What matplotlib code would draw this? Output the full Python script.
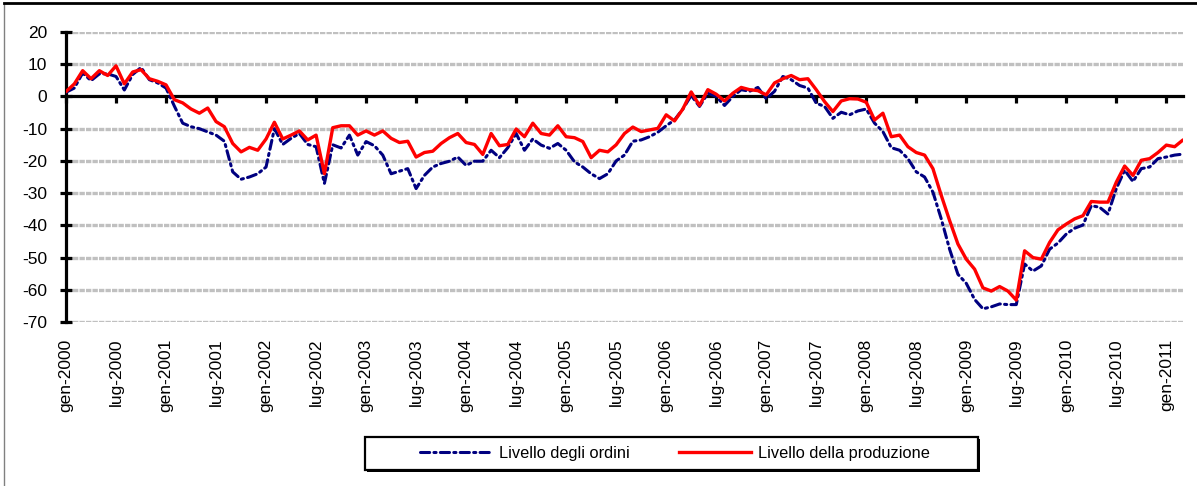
import matplotlib
matplotlib.use('Agg')
import matplotlib.pyplot as plt
from matplotlib.lines import Line2D
from matplotlib.patches import Rectangle

ordini = [1.3, 2.6, 7.3, 4.9, 7.0, 7.0, 6.2, 2.0, 6.8, 9.0, 5.2, 4.2,
          2.6, -3.0, -8.3, -9.4, -10.0, -11.0, -12.0, -13.9, -23.4, -25.7, -25.0, -24.0,
          -21.9, -10.0, -14.9, -13.0, -11.5, -14.9, -15.6, -27.0, -15.0, -16.0, -12.0, -18.2,
          -14.0, -15.3, -18.2, -24.0, -23.2, -22.4, -28.6, -24.5, -21.9, -20.8, -20.1, -18.8,
          -21.4, -20.1, -20.1, -16.7, -19.0, -15.9, -11.5, -16.7, -13.2, -15.1, -16.1, -14.6,
          -16.7, -20.3, -21.9, -24.0, -25.5, -24.0, -20.0, -18.2, -13.9, -13.5, -12.5, -11.1,
          -9.1, -7.3, -3.9, 0.3, -3.1, 1.0, 0.0, -2.8, 0.0, 2.1, 1.6, 2.8,
          -0.7, 1.6, 6.2, 5.2, 3.4, 2.6, -2.1, -3.1, -6.8, -4.9, -5.7, -4.5,
          -3.9, -8.3, -10.9, -15.9, -16.7, -19.3, -23.4, -25.0, -29.7, -38.0, -47.4, -55.2,
          -58.0, -63.0, -65.9, -65.3, -64.4, -64.6, -64.6, -52.0, -54.2, -52.6, -47.4, -45.5,
          -42.7, -40.9, -39.9, -33.9, -34.4, -36.5, -28.6, -22.9, -26.4, -22.4, -21.9, -19.3,
          -18.8, -18.2, -17.9]

produzione = [1.5, 3.9, 8.0, 5.5, 8.0, 6.5, 9.5, 3.9, 7.6, 8.3, 5.5, 4.7,
              3.6, -1.0, -2.0, -3.9, -5.2, -3.6, -7.8, -9.4, -14.6, -17.2, -15.8, -16.7,
              -13.2, -8.0, -13.2, -12.0, -10.7, -13.5, -12.0, -24.0, -9.7, -9.1, -9.1, -12.0,
              -10.7, -12.0, -10.7, -13.0, -14.3, -13.9, -18.8, -17.4, -17.0, -14.6, -12.8, -11.5,
              -14.3, -14.9, -18.0, -11.5, -15.3, -14.9, -10.1, -12.5, -8.3, -11.5, -12.0, -9.1,
              -12.5, -12.8, -14.0, -19.0, -16.7, -17.2, -15.0, -11.5, -9.5, -10.9, -10.4, -9.9,
              -5.7, -7.6, -3.9, 1.4, -2.8, 2.1, 0.7, -1.4, 1.0, 2.8, 2.1, 1.8,
              0.5, 4.2, 5.5, 6.5, 5.2, 5.5, 2.1, -1.6, -4.7, -1.4, -0.7, -0.8,
              -1.8, -7.3, -5.2, -12.5, -12.0, -15.6, -17.4, -18.2, -22.4, -30.7, -38.5, -45.8,
              -50.5, -53.6, -59.4, -60.4, -59.0, -60.4, -63.2, -47.9, -50.0, -50.5, -45.3, -41.4,
              -39.6, -38.0, -37.0, -32.6, -32.8, -32.8, -26.6, -21.6, -24.5, -19.8, -19.3, -17.4,
              -15.1, -15.6, -13.5]

tick_labels = ['gen-2000', 'lug-2000', 'gen-2001', 'lug-2001', 'gen-2002', 'lug-2002',
               'gen-2003', 'lug-2003', 'gen-2004', 'lug-2004', 'gen-2005', 'lug-2005',
               'gen-2006', 'lug-2006', 'gen-2007', 'lug-2007', 'gen-2008', 'lug-2008',
               'gen-2009', 'lug-2009', 'gen-2010', 'lug-2010', 'gen-2011']
y_ticks = [20, 10, 0, -10, -20, -30, -40, -50, -60, -70]

series_names = ['Livello degli ordini', 'Livello della produzione']

font = ['Liberation Sans', 'DejaVu Sans']
BLUE_DASH = (0, (3.0, 1.4, 0.7, 1.4))

W, H = 1197, 486
fig = plt.figure(figsize=(W / 100, H / 100), dpi=100)

left, right, top, bottom = 66, 1183, 32, 322
ax = fig.add_axes([left / W, 1 - bottom / H, (right - left) / W, (bottom - top) / H])

x = list(range(len(ordini)))
ax.set_xlim(0, len(ordini) - 1)
ax.set_ylim(-70, 20)

# grid
for v in y_ticks:
    if v != 0:
        ax.axhline(v, color='#c0c0c0', lw=2.4, ls=(0, (1.6, 0.35)), zorder=1)

ax.plot(x, ordini, color='#000080', lw=2.2, ls=BLUE_DASH,
        solid_joinstyle='round', dash_capstyle='round', dash_joinstyle='round', zorder=3)
ax.plot(x, produzione, color='#ff0000', lw=2.4, solid_joinstyle='round',
        solid_capstyle='round', zorder=4)

for s in ['top', 'right']:
    ax.spines[s].set_visible(False)
ax.spines['left'].set_linewidth(2.3)
ax.spines['bottom'].set_position(('data', 0))
ax.spines['bottom'].set_linewidth(2.3)
ax.spines['bottom'].set_zorder(2)

ax.set_yticks(y_ticks)
ax.set_yticklabels([str(v) for v in y_ticks], family=font, fontsize=12.5)
ax.tick_params(axis='y', direction='inout', length=9, width=2.3, pad=9, colors='black')

xt = list(range(0, len(ordini), 6))
ax.set_xticks(xt)
ax.set_xticklabels([])
ax.tick_params(axis='x', direction='out', length=5, width=2.3)

sec = ax.secondary_xaxis(0)
sec.set_xticks(xt)
sec.set_xticklabels(tick_labels, rotation=90, family=font, fontsize=12.5)
sec.tick_params(axis='x', length=0, pad=12)
sec.spines['bottom'].set_visible(False)

# legend box
bx0, bx1, by0, by1 = 365, 978, 437, 470
fig.add_artist(Rectangle((bx0 / W + 2 / W, 1 - by1 / H - 2 / H), (bx1 - bx0) / W, (by1 - by0) / H,
                         transform=fig.transFigure, facecolor='black', edgecolor='none', zorder=5))
fig.add_artist(Rectangle((bx0 / W, 1 - by1 / H), (bx1 - bx0) / W, (by1 - by0) / H,
                         transform=fig.transFigure, facecolor='white', edgecolor='black',
                         lw=1.6, zorder=6))

handles = [Line2D([], [], color='#000080', lw=2.2, ls=BLUE_DASH, dash_capstyle='round'),
           Line2D([], [], color='#ff0000', lw=2.4)]
leg = fig.legend(handles, series_names, loc='center',
                 bbox_to_anchor=(675 / W, 1 - (by0 + by1) / 2 / H),
                 ncol=2, frameon=False,
                 prop={'family': font, 'size': 11.8}, handlelength=4.4,
                 columnspacing=3.0, borderpad=0.2, handletextpad=0.4)
leg.set_zorder(7)

# outer border
fig.add_artist(Line2D([4 / W, 4 / W], [0, 1 - 3 / H], color='#808080', lw=1.0,
                      transform=fig.transFigure))
fig.add_artist(Line2D([4 / W, 1], [1 - 3 / H, 1 - 3 / H], color='black', lw=2.0,
                      transform=fig.transFigure))

fig.savefig('out.png', dpi=100)
